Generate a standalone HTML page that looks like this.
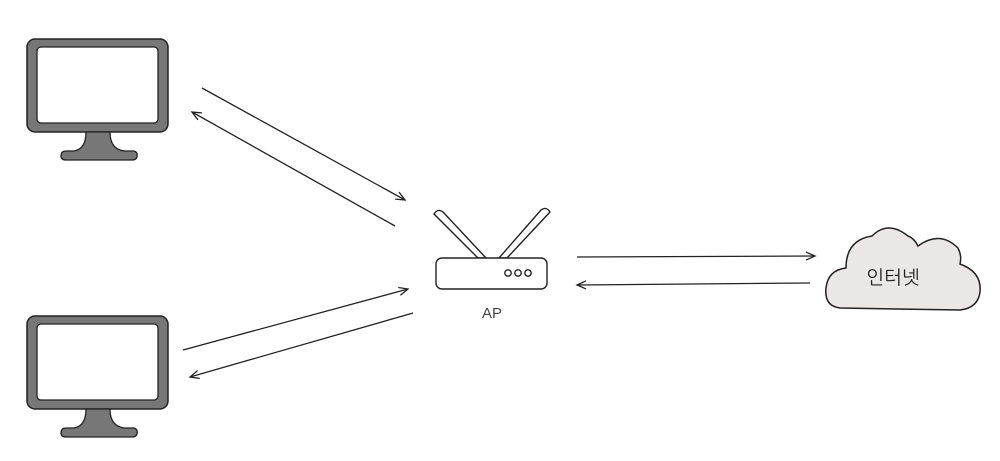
<!DOCTYPE html>
<html><head><meta charset="utf-8"><style>
html,body{margin:0;padding:0;background:#fff;}
svg{display:block;}
text{font-family:"Liberation Sans","NanumGothic","Noto Sans CJK KR",sans-serif;}
</style></head><body>
<svg width="1000" height="461" viewBox="0 0 1000 461">
<defs>
<marker id="ah" markerWidth="12" markerHeight="10" refX="10" refY="5" orient="auto" markerUnits="userSpaceOnUse">
<path d="M1,1 L10,5 L1,9" fill="none" stroke="#222" stroke-width="1.3"/>
</marker>
<g id="mon">
<rect x="27" y="0" width="141" height="93" rx="8" fill="#777" stroke="#222" stroke-width="1.5"/>
<rect x="37" y="8" width="121" height="76" rx="4" fill="#fff" stroke="#222" stroke-width="1.3"/>
<path d="M86,93 L110,93 Q110,110 124,112 L134,112 Q138,113 137,118 Q136,121 132,121 L66,121 Q61,121 61,117 Q61,112 66,112 L74,112 Q86,110 86,93Z" fill="#777" stroke="#222" stroke-width="1.3"/>
</g>
</defs>
<use href="#mon" y="39"/>
<use href="#mon" y="316"/>

<g stroke="#222" stroke-width="1.3" fill="none">
<line x1="202" y1="88" x2="405" y2="200" marker-end="url(#ah)"/>
<line x1="395" y1="226" x2="192" y2="112" marker-end="url(#ah)"/>
<line x1="183" y1="350" x2="408" y2="289" marker-end="url(#ah)"/>
<line x1="413" y1="313" x2="190" y2="377" marker-end="url(#ah)"/>
<line x1="577" y1="257" x2="815" y2="256" marker-end="url(#ah)"/>
<line x1="810" y1="283" x2="577" y2="285" marker-end="url(#ah)"/>
</g>

<g stroke="#222" stroke-width="1.4">
<path d="M434,214 Q438,208 443,212 L486,258 L478,258 Z" fill="#fff"/>
<path d="M550,212 Q546,206 541,210 L499,258 L507,258 Z" fill="#fff"/>
<rect x="436" y="258" width="111" height="31" rx="6" fill="#fff"/>
<circle cx="508" cy="273" r="3.2" fill="#fff"/>
<circle cx="518" cy="273" r="3.2" fill="#fff"/>
<circle cx="528" cy="273" r="3.2" fill="#fff"/>
</g>
<text x="492" y="318" font-size="15" fill="#444" text-anchor="middle">AP</text>

<path d="M840,308 Q824,306 826,288 Q828,270 846,268 Q846,240 872,236 Q888,220 908,236 Q914,238 918,246 Q940,230 958,248 Q962,256 960,264 Q982,272 980,292 Q978,308 960,310 Z" fill="#ebe7e7" stroke="#222" stroke-width="1.5"/>
<text x="893" y="284" font-size="19" fill="#222" text-anchor="middle">인터넷</text>
</svg>
</body></html>
